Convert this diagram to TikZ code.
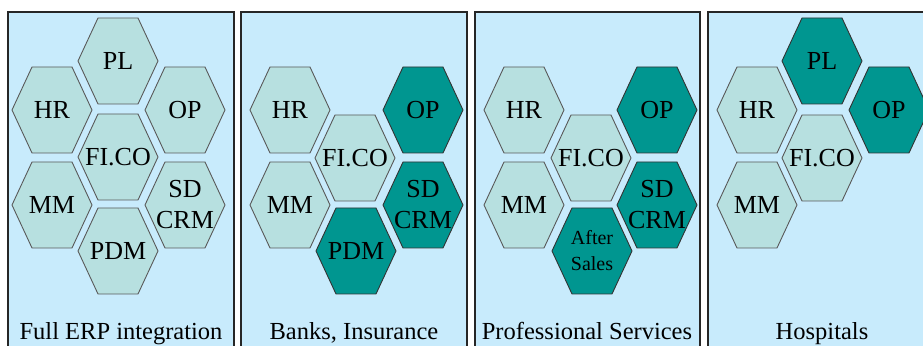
\documentclass[tikz,border=0pt]{standalone}
\usepackage{fontspec}
\setmainfont{Liberation Serif}

\definecolor{panelblue}{RGB}{200,235,252}
\definecolor{paleteal}{RGB}{183,224,224}
\definecolor{deepteal}{RGB}{0,150,144}

\tikzset{
  panel/.style={draw=black!85, line width=0.75pt, fill=panelblue},
  lighthex/.style={fill=paleteal, draw=black!65, line width=0.45pt},
  darkhex/.style={fill=deepteal, draw=black!80, line width=0.45pt},
  hexlabel/.style={font=\fontsize{13}{15.5}\selectfont, align=center, inner sep=0pt},
  smalllabel/.style={hexlabel/.append style={font=\fontsize{10}{13}\selectfont}},
  caption/.style={font=\fontsize{12.25}{14}\selectfont, anchor=base},
  % one module cell, 80 wide and 86 high
  hexcell/.pic={
    \draw[pic actions] (-40,0) -- (-20,43) -- (20,43) -- (40,0) -- (20,-43) -- (-20,-43) -- cycle;
    \node[hexlabel] (-t) at (0,0) {#1};
  }
}

\begin{document}
\begin{tikzpicture}[x=0.5pt, y=-0.5pt]
\clip (0,0) rectangle (923,346);
\fill[white] (0,0) rectangle (923,346);

% The four panels
\draw[panel] (8,12) rectangle (234,360);
\draw[panel] (241,12) rectangle (467,360);
\draw[panel] (475,12) rectangle (700,360);
\draw[panel] (708,12) rectangle (936,360);

% Full ERP integration
\pic[lighthex] (pl1) at (118,61) {hexcell=PL};
\pic[lighthex] (hr1) at (52,110) {hexcell=HR};
\pic[lighthex] (op1) at (185,110) {hexcell=OP};
\pic[lighthex] (fico1) at (118,157) {hexcell=FI.CO};
\pic[lighthex] (mm1) at (52,205) {hexcell=MM};
\pic[lighthex] (sd1) at (185,205) {hexcell={SD\\CRM}};
\pic[lighthex] (pdm1) at (118,251) {hexcell=PDM};
\node[caption] (cap1) at (121,340) {Full ERP integration};

% Banks, Insurance
\pic[lighthex] (hr2) at (290,110) {hexcell=HR};
\pic[darkhex] (op2) at (423,110) {hexcell=OP};
\pic[lighthex] (fico2) at (355,158) {hexcell=FI.CO};
\pic[lighthex] (mm2) at (290,205) {hexcell=MM};
\pic[darkhex] (sd2) at (423,205) {hexcell={SD\\CRM}};
\pic[darkhex] (pdm2) at (356,251) {hexcell=PDM};
\node[caption] (cap2) at (354,340) {Banks, Insurance};

% Professional Services
\pic[lighthex] (hr3) at (524,110) {hexcell=HR};
\pic[darkhex] (op3) at (657,110) {hexcell=OP};
\pic[lighthex] (fico3) at (591,158) {hexcell=FI.CO};
\pic[lighthex] (mm3) at (524,205) {hexcell=MM};
\pic[darkhex] (sd3) at (657,205) {hexcell={SD\\CRM}};
\pic[darkhex, smalllabel] (as3) at (592,251) {hexcell={After\\Sales}};
\node[caption] (cap3) at (587,340) {Professional Services};

% Hospitals
\pic[darkhex] (pl4) at (822,61) {hexcell=PL};
\pic[lighthex] (hr4) at (757,110) {hexcell=HR};
\pic[darkhex] (op4) at (889,110) {hexcell=OP};
\pic[lighthex] (fico4) at (822,158) {hexcell=FI.CO};
\pic[lighthex] (mm4) at (757,205) {hexcell=MM};
\node[caption] (cap4) at (822,340) {Hospitals};
\end{tikzpicture}
\end{document}
